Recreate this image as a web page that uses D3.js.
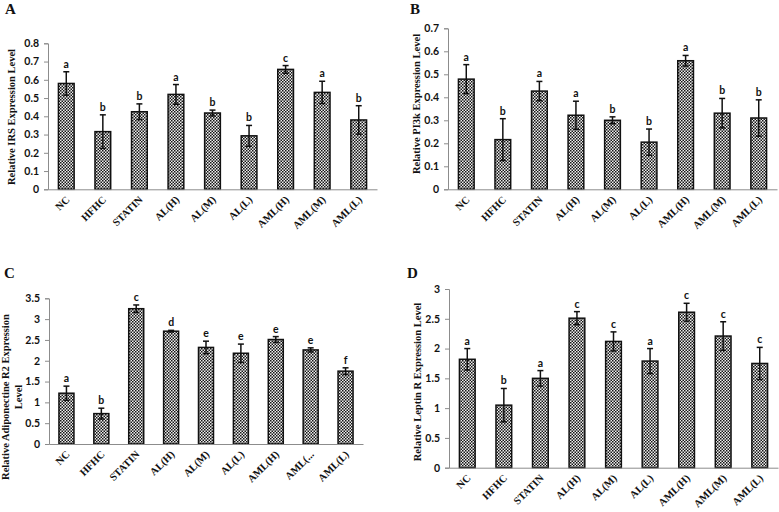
<!DOCTYPE html>
<html>
<head>
<meta charset="utf-8">
<script src="https://cdn.jsdelivr.net/npm/d3@7"></script>
<style>
  body { margin: 0; background: #fff; }
  svg { display: block; }
  .tick-lbl { font-family: Lato, "Liberation Sans", sans-serif; font-weight: bold; font-size: 10.5px; }
  .grp-lbl { font-family: "Liberation Serif", serif; font-weight: bold; font-size: 10.5px; }
  .ytitle { font-family: "Liberation Serif", serif; font-weight: bold; font-size: 10.5px; }
  .panel { font-family: "Liberation Serif", serif; font-weight: bold; font-size: 15px; }
  .sig { font-family: Lato, "Liberation Sans", sans-serif; font-weight: bold; font-size: 10.5px; }
</style>
</head>
<body>
<div id="chart"></div>
<script>
// groups on the x axis
const groups = ["NC", "HFHC", "STATIN", "AL(H)", "AL(M)", "AL(L)", "AML(H)", "AML(M)", "AML(L)"];
const groupLabelsC = ["NC", "HFHC", "STATIN", "AL(H)", "AL(M)", "AL(L)", "AML(H)", "AML(...", "AML(L)"];

// A: IRS
const irsMean = [0.58, 0.316, 0.425, 0.52, 0.418, 0.293, 0.657, 0.531, 0.38];
const irsErr = [0.064, 0.092, 0.043, 0.054, 0.016, 0.057, 0.021, 0.061, 0.078];
const irsSig = ["a", "b", "b", "a", "b", "b", "c", "a", "b"];
const irsTicks = [0, 0.1, 0.2, 0.3, 0.4, 0.5, 0.6, 0.7, 0.8];

// B: PI3k
const pi3kMean = [0.479, 0.216, 0.427, 0.322, 0.3, 0.205, 0.559, 0.331, 0.31];
const pi3kErr = [0.063, 0.091, 0.042, 0.061, 0.015, 0.057, 0.023, 0.064, 0.079];
const pi3kSig = ["a", "b", "a", "a", "b", "b", "a", "b", "b"];
const pi3kTicks = [0, 0.1, 0.2, 0.3, 0.4, 0.5, 0.6, 0.7];

// C: Adiponectine R2
const adipoMean = [1.22, 0.73, 3.25, 2.71, 2.32, 2.18, 2.51, 2.26, 1.75];
const adipoErr = [0.17, 0.13, 0.09, 0.02, 0.15, 0.22, 0.07, 0.05, 0.08];
const adipoSig = ["a", "b", "c", "d", "e", "e", "e", "e", "f"];
const adipoTicks = [0, 0.5, 1, 1.5, 2, 2.5, 3, 3.5];

// D: Leptin R
const leptinMean = [1.82, 1.05, 1.5, 2.51, 2.12, 1.79, 2.61, 2.21, 1.75];
const leptinErr = [0.18, 0.28, 0.13, 0.11, 0.16, 0.21, 0.15, 0.24, 0.27];
const leptinSig = ["a", "b", "a", "c", "c", "a", "c", "c", "c"];
const leptinTicks = [0, 0.5, 1, 1.5, 2, 2.5, 3];

const svg = d3.select("#chart").append("svg")
    .attr("width", 779)
    .attr("height", 512);

// checkered fill of the bars
const pat = svg.append("defs").append("pattern")
    .attr("id", "checker")
    .attr("patternUnits", "userSpaceOnUse")
    .attr("width", 3)
    .attr("height", 3);
pat.append("rect").attr("width", 3).attr("height", 3).attr("fill", "#eeeeee");
pat.append("rect").attr("width", 1.5).attr("height", 1.5).attr("fill", "#151515");
pat.append("rect").attr("x", 1.5).attr("y", 1.5).attr("width", 1.5).attr("height", 1.5).attr("fill", "#151515");

const panels = [
    { letter: "A", lx: 5, ly: 14, x0: 48, x1: 377, y0: 189.3, y1: 43.3, ticks: irsTicks, mean: irsMean, err: irsErr, sig: irsSig,
      labels: groups, title: ["Relative IRS Expression Level"], tx: 15, ty: 117 },
    { letter: "B", lx: 410, ly: 14, x0: 448, x1: 777, y0: 189.3, y1: 28.3, ticks: pi3kTicks, mean: pi3kMean, err: pi3kErr, sig: pi3kSig,
      labels: groups, title: ["Relative PI3k Expression Level"], tx: 420, ty: 104 },
    { letter: "C", lx: 4, ly: 278, x0: 49, x1: 363, y0: 444, y1: 298.3, ticks: adipoTicks, mean: adipoMean, err: adipoErr, sig: adipoSig,
      labels: groupLabelsC, title: ["Relative Adiponectine R2 Expression", "Level"], tx: 9, ty: 397 },
    { letter: "D", lx: 407, ly: 278, x0: 449, x1: 778, y0: 467.7, y1: 289, ticks: leptinTicks, mean: leptinMean, err: leptinErr, sig: leptinSig,
      labels: groups, title: ["Relative Leptin R Expression Level"], tx: 421, ty: 382 }
];

panels.forEach(p => {
    const g = svg.append("g");

    const x = d3.scaleBand()
        .domain(groups)
        .range([p.x0, p.x1]);

    const y = d3.scaleLinear()
        .domain([0, d3.max(p.ticks)])
        .range([p.y0, p.y1]);

    const bw = x.bandwidth() * 0.43;

    // y axis
    const yAxis = g.append("g")
        .attr("transform", `translate(${p.x0},0)`)
        .call(d3.axisLeft(y).tickValues(p.ticks).tickSize(4).tickPadding(5).tickFormat(d => +d.toFixed(2)));
    yAxis.select(".domain").attr("stroke", "#8c8c8c");
    yAxis.selectAll(".tick line").attr("stroke", "#8c8c8c");
    yAxis.selectAll(".tick text").attr("class", "tick-lbl").attr("fill", "#111");

    // bars
    g.selectAll(".bar")
        .data(groups)
        .enter()
        .append("rect")
        .attr("class", "bar")
        .attr("x", d => x(d) + (x.bandwidth() - bw) / 2)
        .attr("y", (d, i) => y(p.mean[i]))
        .attr("width", bw)
        .attr("height", (d, i) => p.y0 - y(p.mean[i]))
        .attr("fill", "url(#checker)")
        .attr("stroke", "#111")
        .attr("stroke-width", 1.5);

    // x axis line
    const xAxis = g.append("g")
        .attr("transform", `translate(0,${p.y0})`)
        .call(d3.axisBottom(x).tickSize(0).tickFormat(""));
    xAxis.select(".domain").attr("stroke", "#8c8c8c");

    // error bars
    const eb = g.selectAll(".err")
        .data(groups)
        .enter()
        .append("g")
        .attr("stroke", "#111")
        .attr("stroke-width", 1.5);
    eb.append("line")
        .attr("x1", d => x(d) + x.bandwidth() / 2)
        .attr("x2", d => x(d) + x.bandwidth() / 2)
        .attr("y1", (d, i) => y(p.mean[i] - p.err[i]))
        .attr("y2", (d, i) => y(p.mean[i] + p.err[i]));
    eb.append("line")
        .attr("x1", d => x(d) + x.bandwidth() / 2 - 3)
        .attr("x2", d => x(d) + x.bandwidth() / 2 + 3)
        .attr("y1", (d, i) => y(p.mean[i] + p.err[i]))
        .attr("y2", (d, i) => y(p.mean[i] + p.err[i]));
    eb.append("line")
        .attr("x1", d => x(d) + x.bandwidth() / 2 - 3)
        .attr("x2", d => x(d) + x.bandwidth() / 2 + 3)
        .attr("y1", (d, i) => y(p.mean[i] - p.err[i]))
        .attr("y2", (d, i) => y(p.mean[i] - p.err[i]));

    // significance letters
    g.selectAll(".sig")
        .data(groups)
        .enter()
        .append("text")
        .attr("class", "sig")
        .attr("x", d => x(d) + x.bandwidth() / 2)
        .attr("y", (d, i) => y(p.mean[i] + p.err[i]) - 4)
        .attr("text-anchor", "middle")
        .attr("fill", "#111")
        .text((d, i) => p.sig[i]);

    // rotated group labels
    g.selectAll(".grp-lbl")
        .data(groups)
        .enter()
        .append("text")
        .attr("class", "grp-lbl")
        .attr("text-anchor", "end")
        .attr("transform", d => `translate(${x(d) + x.bandwidth() / 2 + 4},${p.y0 + 11}) rotate(-45)`)
        .attr("fill", "#111")
        .text((d, i) => p.labels[i]);

    // y title
    const t = g.append("text")
        .attr("class", "ytitle")
        .attr("text-anchor", "middle")
        .attr("transform", `translate(${p.tx},${p.ty}) rotate(-90)`)
        .attr("fill", "#111");
    p.title.forEach((line, k) => {
        t.append("tspan")
            .attr("x", 0)
            .attr("dy", k === 0 ? 0 : 13)
            .text(line);
    });

    // panel letter
    g.append("text")
        .attr("class", "panel")
        .attr("x", p.lx)
        .attr("y", p.ly)
        .attr("fill", "#111")
        .text(p.letter);
});
</script>
</body>
</html>
